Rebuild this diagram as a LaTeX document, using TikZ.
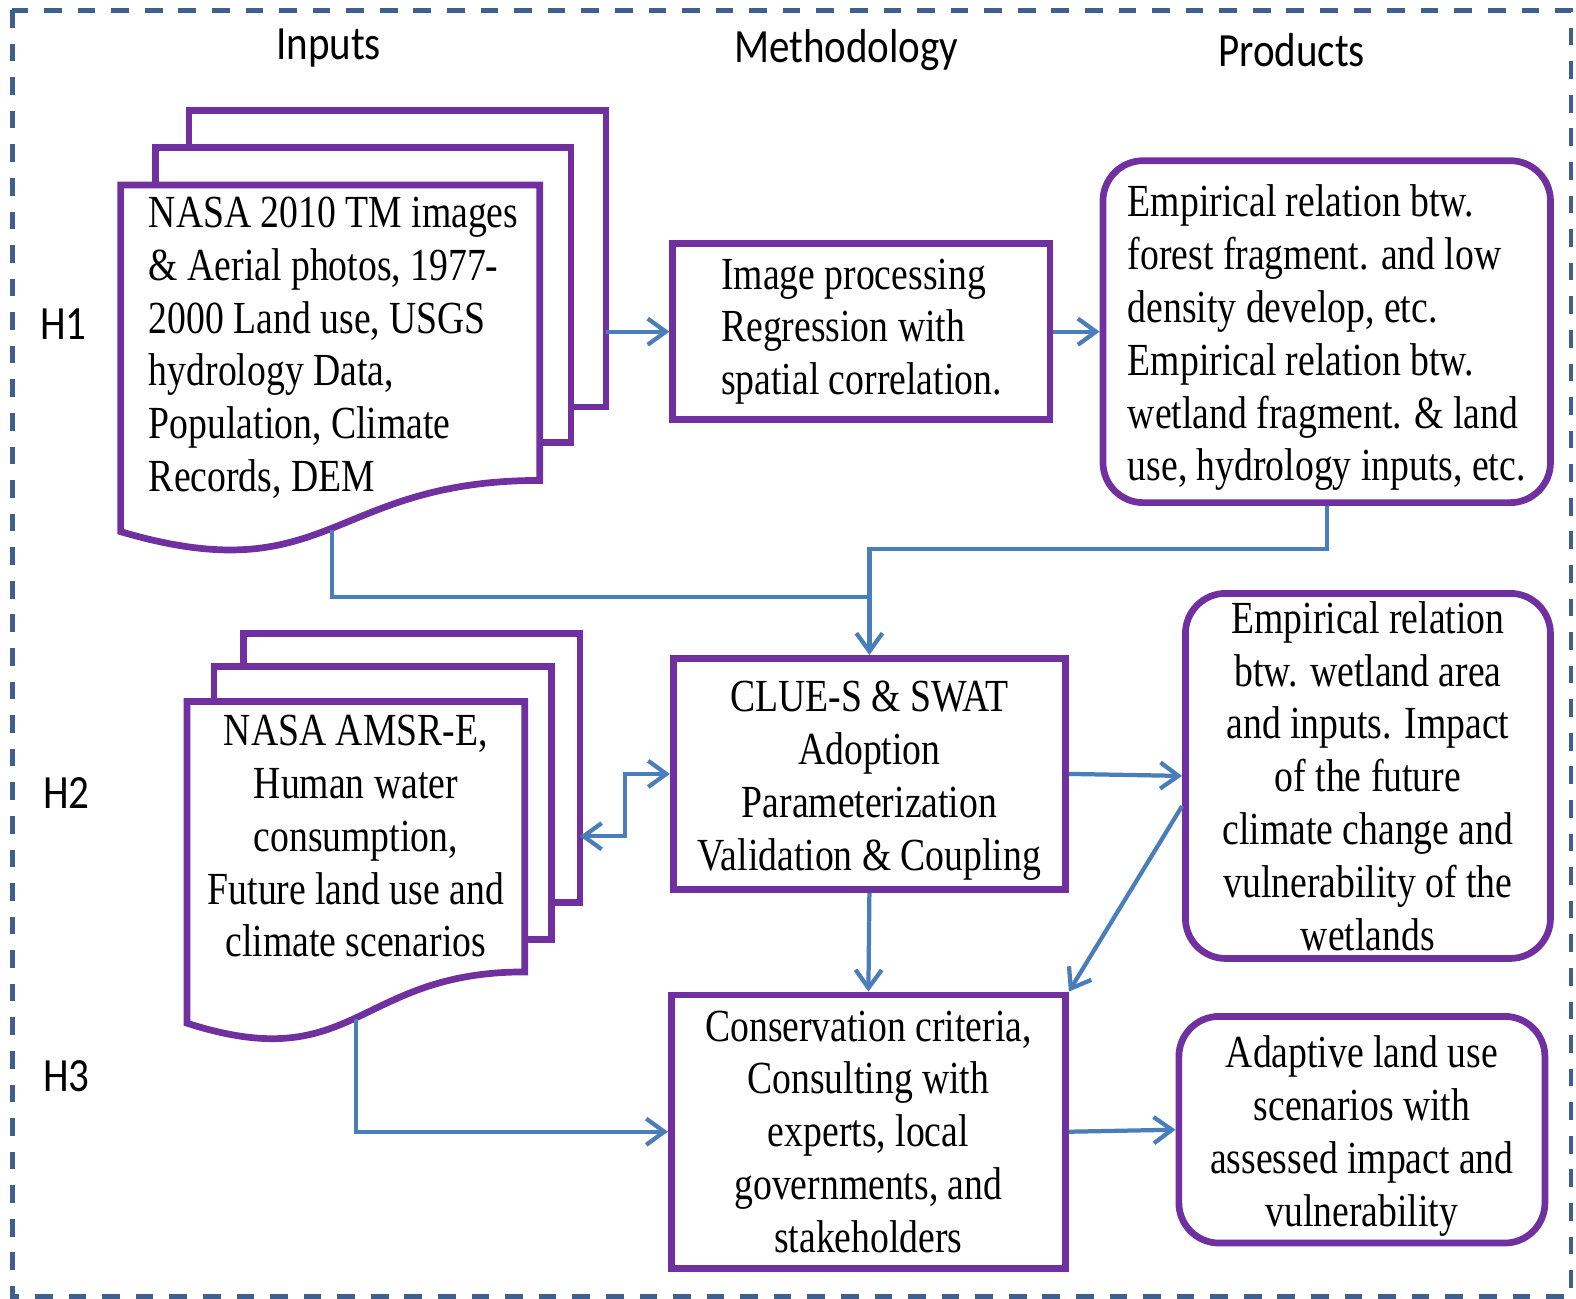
\documentclass[tikz,border=0pt]{standalone}
\usepackage{fontspec}
\setmainfont{Liberation Serif}[FakeStretch=0.82]
\newfontfamily\headfont{Carlito}[FakeStretch=0.86]
\usepackage{tikz}
\usetikzlibrary{arrows.meta,calc,positioning}

\definecolor{boxpurple}{HTML}{7030A0}
\definecolor{flowblue}{HTML}{4A7EBB}
\definecolor{framedash}{HTML}{3F5F8F}

\newcommand{\bodyfont}{\fontsize{13}{14.94}\selectfont}
\newcommand{\toppad}{\rule{0pt}{12.5pt}}

\tikzset{
  sheet/.style={
    draw=boxpurple,
    line width=1.9pt,
    fill=white
  }
}
\tikzset{
  method box/.style={
    rectangle,
    draw=boxpurple,
    line width=1.9pt,
    fill=white,
    inner sep=2pt,
    align=center,
    font=\bodyfont
  }
}
\tikzset{
  product box/.style={
    method box,
    rounded corners=4mm
  }
}
\tikzset{
  doc text/.style={
    inner sep=0pt,
    font=\bodyfont
  }
}
\tikzset{
  heading/.style={
    inner sep=0pt,
    font=\fontsize{13.5}{16}\headfont
  }
}
\tikzset{
  flow/.style={
    -{Straight Barb[length=1.8mm,width=2.6mm]},
    draw=flowblue,
    line width=1.2pt
  }
}

\begin{document}
\begin{tikzpicture}[x=0.01cm,y=-0.01cm]

    \useasboundingbox (0,0) rectangle (1568,1292);

    % ------------------------------------------------------------
    % Frame and headings
    % ------------------------------------------------------------

    \draw[framedash,line width=1.4pt,dash pattern=on 5pt off 4.5pt]
      (12,10) rectangle (1563,1290);

    \node[heading] (inputs) at (327,48) {Inputs};
    \node[heading] (method) at (842,50) {Methodology};
    \node[heading] (products) at (1285,50) {Products};

    \node[heading] (h1) at (63,323) {H1};
    \node[heading] (h2) at (66,789) {H2};
    \node[heading] (h3) at (66,1071) {H3};

    % ------------------------------------------------------------
    % Input documents
    % ------------------------------------------------------------

    \draw[sheet,fill=none]
      (188,147) -- (188,110) -- (603,110) -- (603,405) -- (568,405);
    \draw[sheet,fill=none]
      (155,184) -- (155,147) -- (568,147) -- (568,440) -- (537,440);
    \draw[sheet]
      (120,184) -- (537,184) -- (537,478)
      .. controls (328,478) and (328,590) .. (120,529) -- cycle;

    \coordinate (d1out) at (603,330);
    \coordinate (d1foot) at (330,527);

    \node[doc text,align=left] (doc1) at (332,346)
    {
      NASA 2010 TM images\\
      \& Aerial photos, 1977-\\
      2000 Land use, USGS\\
      hydrology Data,\\
      Population, Climate\\
      Records, DEM
    };

    \draw[sheet,fill=none]
      (242,663) -- (242,630) -- (577,630) -- (577,898) -- (549,898);
    \draw[sheet,fill=none]
      (213,698) -- (213,663) -- (549,663) -- (549,935) -- (522,935);
    \draw[sheet]
      (186,698) -- (522,698) -- (522,967)
      .. controls (354,967) and (354,1072) .. (186,1018) -- cycle;

    \coordinate (d2out) at (577,832);
    \coordinate (d2foot) at (354,1014);

    \node[doc text,align=center] (doc2) at (354,832)
    {
      NASA AMSR-E,\\
      Human water\\
      consumption,\\
      Future land use and\\
      climate scenarios
    };

    % ------------------------------------------------------------
    % Methodology
    % ------------------------------------------------------------

    \node[method box,align=left,minimum width=3.75cm,minimum height=1.75cm]
      (imgproc) at (857,330)
    {
      Image processing\\
      Regression with\\
      spatial correlation.
    };

    \node[method box,minimum width=3.9cm,minimum height=2.3cm]
      (clue) at (865,770)
    {
      \toppad CLUE-S \& SWAT\\
      Adoption\\
      Parameterization\\
      Validation \& Coupling
    };

    \node[method box,minimum width=3.92cm,minimum height=2.72cm]
      (conserv) at (864,1126)
    {
      Conservation criteria,\\
      Consulting with\\
      experts, local\\
      governments, and\\
      stakeholders
    };

    % ------------------------------------------------------------
    % Products
    % ------------------------------------------------------------

    \node[product box,align=left,minimum width=4.45cm,minimum height=3.4cm]
      (relation) at (1320,330)
    {
      \toppad Empirical relation btw.\\
      forest fragment. and low\\
      density develop, etc.\\
      Empirical relation btw.\\
      wetland fragment. \& land\\
      use, hydrology inputs, etc.
    };

    \node[product box,minimum width=3.63cm,minimum height=3.63cm]
      (impact) at (1361,772)
    {
      Empirical relation\\
      btw. wetland area\\
      and inputs. Impact\\
      of the future\\
      climate change and\\
      vulnerability of the\\
      wetlands
    };

    \node[product box,minimum width=3.64cm,minimum height=2.24cm]
      (adaptive) at (1355,1124)
    {
      \toppad Adaptive land use\\
      scenarios with\\
      assessed impact and\\
      vulnerability
    };

    % ------------------------------------------------------------
    % Edges
    % ------------------------------------------------------------

    \coordinate (merge) at (865,546);
    \coordinate (join) at (865,594);

    \draw[flow] (d1out) -- (imgproc.west);
    \draw[flow] (imgproc.east) -- (relation.west);
    \draw[flow] (relation.south) |- (merge) -- (clue.north);
    \draw[flow,-] (d1foot) |- (join);

    \draw[flow,{Straight Barb[length=1.8mm,width=2.6mm]}-{Straight Barb[length=1.8mm,width=2.6mm]}]
      (d2out) -- ++(45,0) |- (clue.west);

    \draw[flow] (clue.east) -- (impact.west);
    \draw[flow] ([yshift=-3mm]impact.west) -- (conserv.north east);
    \draw[flow] (clue.south) -- (conserv.north);

    \draw[flow] (d2foot) |- (conserv.west);
    \draw[flow] (conserv.east) -- (adaptive.west);

\end{tikzpicture}
\end{document}
